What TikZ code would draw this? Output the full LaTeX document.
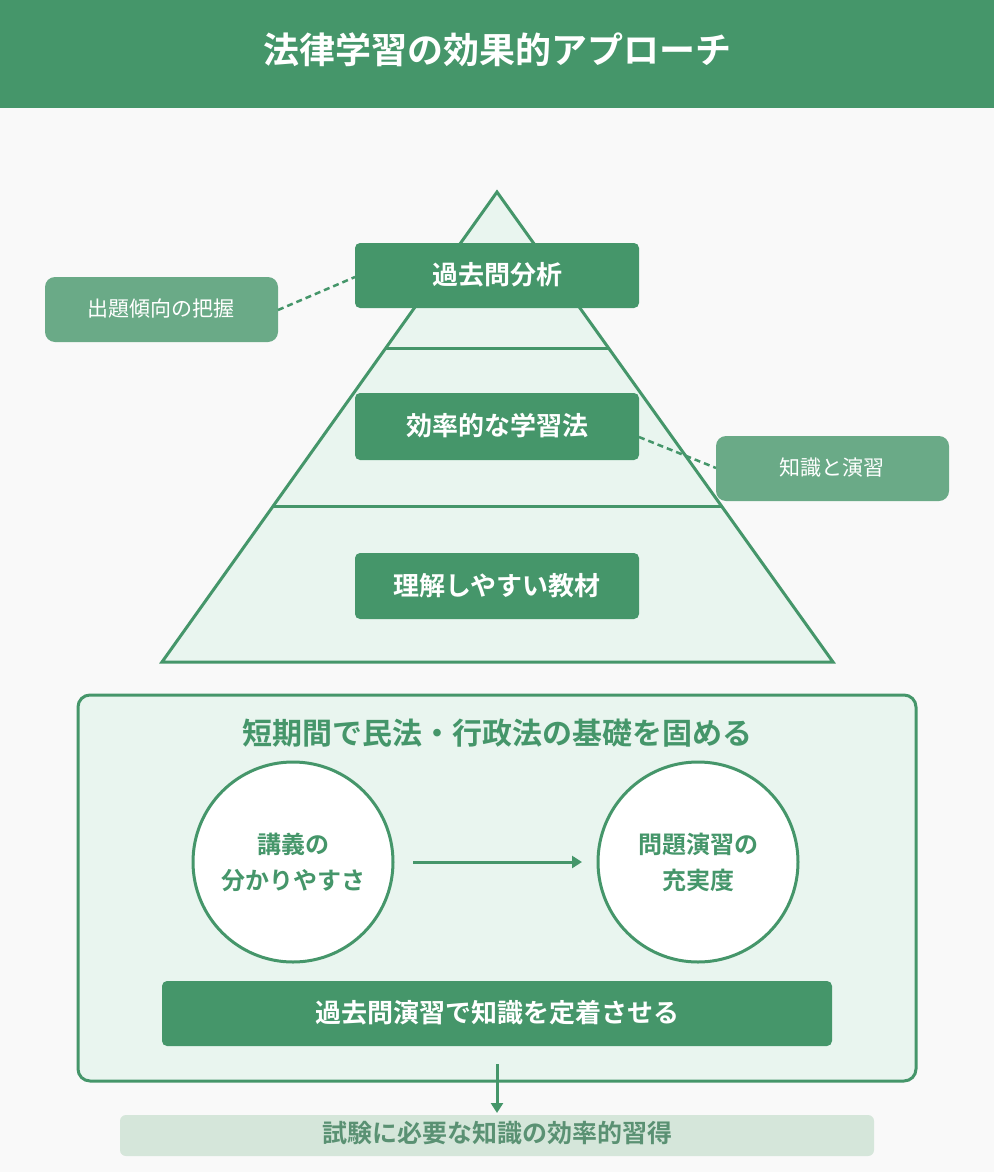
\documentclass[tikz,border=0pt]{standalone}
\usepackage{fontspec}
\setmainfont{Noto Sans CJK JP}
\newfontfamily\jpb{Noto Sans CJK JP Bold}
\usetikzlibrary{arrows.meta}
\definecolor{gr}{HTML}{45966A}
\definecolor{lg}{HTML}{E9F5EF}
\definecolor{mg}{HTML}{6AAA87}
\definecolor{bg}{HTML}{F9F9F9}
\definecolor{bb}{HTML}{D5E6DA}
\tikzset{
 gbox/.style={fill=gr,rounded corners=5pt,text=white,font=\jpb\fontsize{26}{30}\selectfont},
 sbox/.style={fill=mg,rounded corners=10pt,text=white,font=\fontsize{21}{25}\selectfont},
 circ/.style={circle,draw=gr,line width=3pt,fill=white,minimum size=200pt,text=gr,align=center,font=\jpb\fontsize{24}{36}\selectfont},
 dl/.style={gr,line width=2.5pt,dash pattern=on 6pt off 4pt},
}
\begin{document}
\begin{tikzpicture}[x=1pt,y=-1pt]
\useasboundingbox (0,0) rectangle (994,1172);
\fill[bg] (0,0) rectangle (994,1172);
\fill[gr] (0,0) rectangle (994,108);
\node[text=white,font=\jpb\fontsize{36}{40}\selectfont] (title) at (497,50) {法律学習の効果的アプローチ};
% pyramid
\draw[gr,line width=3pt,fill=lg,line join=miter] (497,192) -- (833,662) -- (162,662) -- cycle;
\draw[gr,line width=3pt] (386,348) -- (609,348);
\draw[gr,line width=3pt] (274,506) -- (721,506);
\path[gbox] (355,243) rectangle (639,308);
\node[text=white,font=\jpb\fontsize{26}{30}\selectfont] (b1) at (497,275) {過去問分析};
\path[gbox] (355,393) rectangle (639,460);
\node[text=white,font=\jpb\fontsize{26}{30}\selectfont] (b2) at (497,426) {効率的な学習法};
\path[gbox] (355,553) rectangle (639,619);
\node[text=white,font=\jpb\fontsize{26}{30}\selectfont] (b3) at (497,586) {理解しやすい教材};
% side labels
\path[sbox] (45,277) rectangle (278,342);
\node[text=white,font=\fontsize{21}{25}\selectfont] (s1) at (161,309) {出題傾向の把握};
\path[sbox] (716,436) rectangle (949,501);
\node[text=white,font=\fontsize{21}{25}\selectfont] (s2) at (832,468) {知識と演習};
\coordinate (s1e) at (278,310); \coordinate (b1w) at (355,277);
\coordinate (b2e) at (639,437); \coordinate (s2w) at (716,468);
\draw[dl] (s1e) -- (b1w);
\draw[dl] (b2e) -- (s2w);
% big box
\draw[gr,line width=3pt,fill=lg,rounded corners=12pt] (78,695) rectangle (916,1081);
\node[text=gr,font=\jpb\fontsize{30}{34}\selectfont] (bt) at (497,733) {短期間で民法・行政法の基礎を固める};
\node[circ] (c1) at (293,862) {講義の\\分かりやすさ};
\node[circ] (c2) at (698,862) {問題演習の\\充実度};
\coordinate (a1) at (413,862); \coordinate (a2) at (582,862);
\draw[gr,line width=3pt,-{Triangle[length=10pt,width=12pt]}] (a1) -- (a2);
\path[gbox] (162,981) rectangle (832,1046);
\node[text=white,font=\jpb\fontsize{26}{30}\selectfont] (bar) at (497,1013) {過去問演習で知識を定着させる};
% bottom
\fill[bb,rounded corners=6pt] (120,1115) rectangle (874,1156);
\node[text=mg!85!black,font=\jpb\fontsize{25}{28}\selectfont] (res) at (497,1133) {試験に必要な知識の効率的習得};
\coordinate (d1) at (497,1064); \coordinate (d2) at (497,1113);
\draw[gr,line width=3pt,-{Triangle[length=10pt,width=12pt]}] (d1) -- (d2);
\end{tikzpicture}
\end{document}
